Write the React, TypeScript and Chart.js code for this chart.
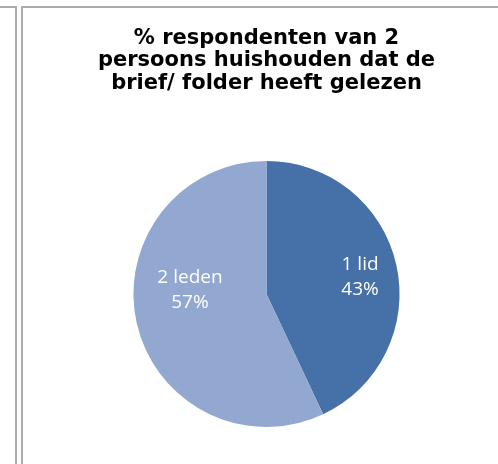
import React, { useEffect, useRef } from "react";
import { Chart, registerables } from "chart.js";

Chart.register(...registerables);

const titleLines = ["% respondenten van 2", "persoons huishouden dat de", "brief/ folder heeft gelezen"];
const categories = ["1 lid", "2 leden"];
const values = [43, 57];
const sliceColors = ["#4571A8", "#93A8D0"];
const labelRadiusFactors = [0.714, 0.576];
const labelAngleOffsets = [2.6, 15.6];

const sliceLabelPlugin = {
  id: "sliceLabels",
  afterDatasetsDraw(chart: any, _args: any, opts: any) {
    const meta = chart.getDatasetMeta(0);
    const ctx = chart.ctx;
    const total = values.reduce((a, b) => a + b, 0);
    ctx.save();
    ctx.fillStyle = "#ffffff";
    ctx.font = "19px 'Open Sans'";
    ctx.textAlign = "center";
    ctx.textBaseline = "middle";
    meta.data.forEach((arc: any, i: number) => {
      const p = arc.getProps(["x", "y", "startAngle", "endAngle", "outerRadius"], true);
      const mid = (p.startAngle + p.endAngle) / 2 + ((opts.angleOffsets[i] || 0) * Math.PI) / 180;
      const r = p.outerRadius * opts.radiusFactors[i];
      const cx = p.x + Math.cos(mid) * r;
      const cy = p.y + Math.sin(mid) * r;
      const pct = Math.round((values[i] / total) * 100) + "%";
      const lines = [categories[i], pct];
      const lh = 25;
      lines.forEach((t, j) => {
        ctx.fillText(t, cx, cy + (j - (lines.length - 1) / 2) * lh);
      });
    });
    ctx.restore();
  },
};

export default function App() {
  const ref = useRef<HTMLCanvasElement | null>(null);
  useEffect(() => {
    if (!ref.current) return;
    const chart = new Chart(ref.current, {
      type: "pie",
      data: {
        labels: categories,
        datasets: [
          {
            data: values,
            backgroundColor: sliceColors,
            borderWidth: 0,
          },
        ],
      },
      options: {
        responsive: false,
        animation: false,
        layout: { padding: { left: 30, right: 18, top: 0, bottom: 37 } },
        plugins: {
          legend: { display: false },
          tooltip: { enabled: false },
          title: {
            display: true,
            text: titleLines,
            color: "#000000",
            font: { family: "'DejaVu Sans'", size: 21, weight: "bold", lineHeight: 1.07 },
            padding: { top: 19, bottom: 66.5 },
          },
          sliceLabels: { radiusFactors: labelRadiusFactors, angleOffsets: labelAngleOffsets },
        } as any,
      },
      plugins: [sliceLabelPlugin],
    });
    return () => chart.destroy();
  }, []);

  return (
    <div style={{ position: "fixed", left: 0, top: 0, width: 498, height: 464, background: "#fff", overflow: "hidden" }}>
      <div style={{ position: "absolute", left: 0, top: 6, width: 17, height: 2, background: "#ababab" }} />
      <div style={{ position: "absolute", left: 15, top: 6, width: 2, height: 470, background: "#ababab" }} />
      <div style={{ position: "absolute", left: 21, top: 6, width: 480, height: 2, background: "#ababab" }} />
      <div style={{ position: "absolute", left: 21, top: 6, width: 2, height: 470, background: "#ababab" }} />
      <canvas ref={ref} width={475} height={456} style={{ position: "absolute", left: 23, top: 8, width: 475, height: 456 }} />
    </div>
  );
}
